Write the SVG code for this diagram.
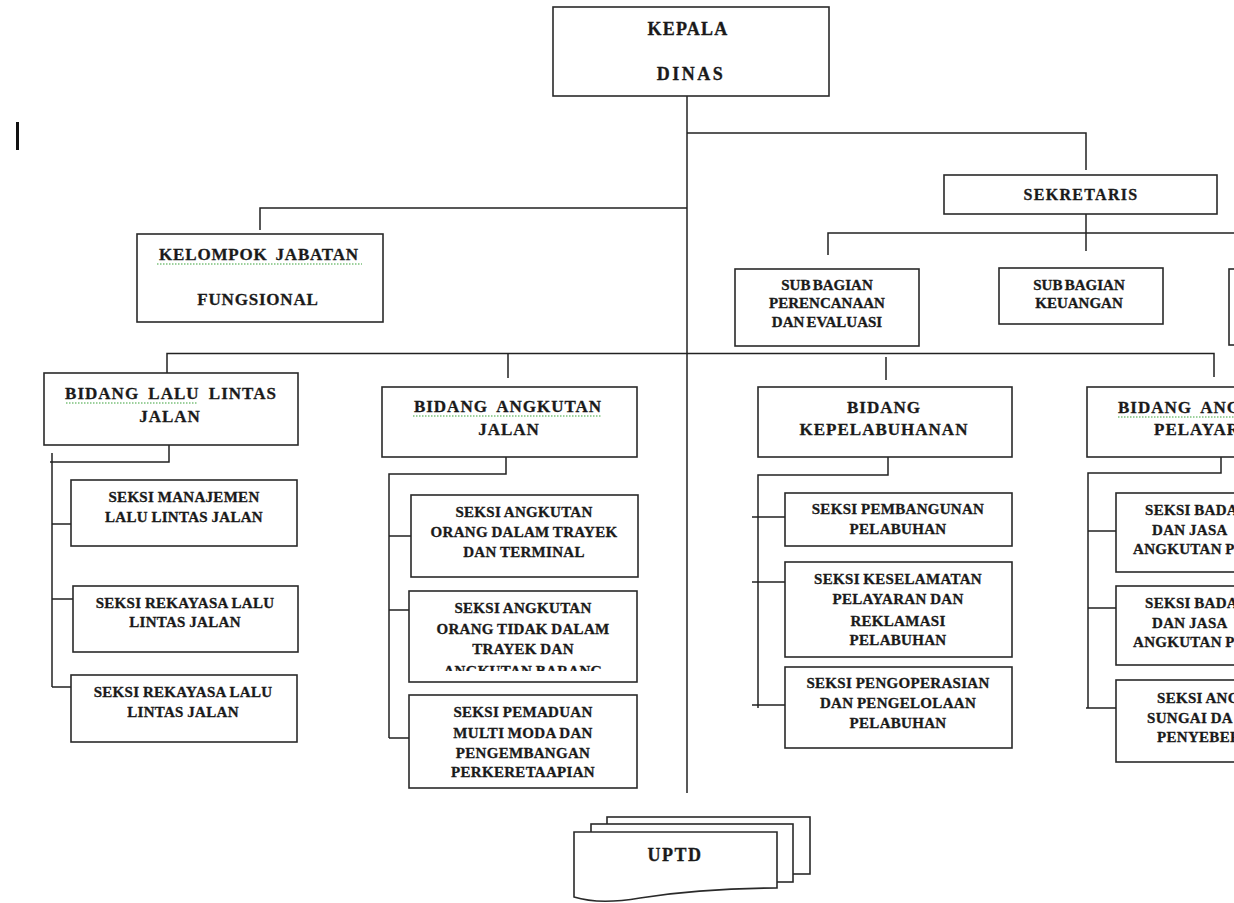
<svg xmlns="http://www.w3.org/2000/svg" width="1234" height="903" viewBox="0 0 1234 903">
<style>
.box{fill:#fff;stroke:#2a2a2a;stroke-width:1.6}
.ln{fill:none;stroke:#222;stroke-width:1.5}
.sq{fill:none;stroke:#3aa23a;stroke-width:1.2;stroke-dasharray:1.5 1.5}
text{font-family:"Liberation Serif","Times New Roman",serif;font-weight:bold;fill:#1a1a1a;stroke:#1a1a1a;stroke-width:0.3;text-anchor:middle}
.big{font-size:18px}
.bid{font-size:17px;letter-spacing:1px}
.sek{font-size:15px;letter-spacing:0.3px;word-spacing:-0.5px}
.sub{font-size:15px;word-spacing:-1.5px}
.st{text-anchor:start}
</style>
<defs>
<clipPath id="clipOT"><rect x="409" y="591" width="228" height="80"/></clipPath>
</defs>
<rect x="16" y="122" width="3" height="28" fill="#111"/>
<g id="connectors">
<path class="ln" d="M687,96 V793"/>
<path class="ln" d="M687,133 H1086 V170"/>
<path class="ln" d="M687,208 H260 V230"/>
<path class="ln" d="M1086,214 V251"/>
<path class="ln" d="M828,255 V233 H1234"/>
<path class="ln" d="M167,373 V353.5 H1214 V377"/>
<path class="ln" d="M508,353.5 V378"/>
<path class="ln" d="M886,357 V380"/>
<path class="ln" d="M169,442 V462 H50"/>
<path class="ln" d="M52,453 V687"/>
<path class="ln" d="M52,524 H74 M52,599 H74 M52,687 H74"/>
<path class="ln" d="M506,453 V474 H389 V738"/>
<path class="ln" d="M389,536 H412 M389,610 H412 M389,738 H412"/>
<path class="ln" d="M888,453 V475 H758 V708"/>
<path class="ln" d="M752,517 H788 M752,582 H788 M752,705 H788"/>
<path class="ln" d="M1221,453 V473 H1088 V708"/>
<path class="ln" d="M1088,531 H1117 M1088,608 H1117 M1086,708 H1117"/>
</g>
<g id="kepala-dinas">
<rect class="box" x="553" y="7" width="276" height="89"/>
<text class="big" x="688" y="35" style="letter-spacing:1.2px">KEPALA</text>
<text class="big" x="691" y="80" style="letter-spacing:2.5px">DINAS</text>
</g>
<g id="sekretaris">
<rect class="box" x="944" y="175" width="273" height="39"/>
<text x="1081" y="200" style="font-size:16px;letter-spacing:1.3px">SEKRETARIS</text>
</g>
<g id="kelompok-jabatan">
<rect class="box" x="137" y="234" width="246" height="88"/>
<text x="259" y="260" style="font-size:17px;letter-spacing:0.8px;word-spacing:3px">KELOMPOK JABATAN</text>
<path class="sq" d="M157,264 H362"/>
<text x="258" y="305" style="font-size:17px;letter-spacing:0.8px">FUNGSIONAL</text>
</g>
<g id="subbag-perencanaan">
<rect class="box" x="735" y="269" width="184" height="77"/>
<text class="sub" x="827" y="290">SUB BAGIAN</text>
<text class="sub" x="827" y="308">PERENCANAAN</text>
<text class="sub" x="827" y="327">DAN EVALUASI</text>
</g>
<g id="subbag-keuangan">
<rect class="box" x="999" y="268" width="164" height="56"/>
<text class="sub" x="1079" y="290">SUB BAGIAN</text>
<text class="sub" x="1079" y="308">KEUANGAN</text>
</g>
<g id="subbag-3">
<rect class="box" x="1229" y="269" width="60" height="76"/>
</g>
<g id="bidang-llj">
<rect class="box" x="44" y="373" width="254" height="72"/>
<text class="bid" x="171" y="399" style="word-spacing:4px">BIDANG LALU LINTAS</text>
<path class="sq" d="M66,403 H197"/>
<text class="bid" x="170" y="422">JALAN</text>
</g>
<g id="seksi-manajemen">
<rect class="box" x="71" y="480" width="226" height="66"/>
<text class="sek" x="184" y="502">SEKSI MANAJEMEN</text>
<text class="sek" x="184" y="522">LALU LINTAS JALAN</text>
</g>
<g id="seksi-rekayasa-1">
<rect class="box" x="73" y="586" width="225" height="66"/>
<text class="sek" x="185" y="608">SEKSI REKAYASA LALU</text>
<text class="sek" x="185" y="627">LINTAS JALAN</text>
</g>
<g id="seksi-rekayasa-2">
<rect class="box" x="71" y="675" width="226" height="67"/>
<text class="sek" x="183" y="697">SEKSI REKAYASA LALU</text>
<text class="sek" x="183" y="717">LINTAS JALAN</text>
</g>
<g id="bidang-aj">
<rect class="box" x="382" y="387" width="255" height="70"/>
<text class="bid" x="508" y="412" style="word-spacing:4px">BIDANG ANGKUTAN</text>
<path class="sq" d="M413,416 H602"/>
<text class="bid" x="509" y="435">JALAN</text>
</g>
<g id="seksi-aodt">
<rect class="box" x="411" y="495" width="227" height="82"/>
<text class="sek" x="524" y="517">SEKSI ANGKUTAN</text>
<text class="sek" x="524" y="537">ORANG DALAM TRAYEK</text>
<text class="sek" x="524" y="557">DAN TERMINAL</text>
</g>
<g id="seksi-aotdt">
<rect class="box" x="409" y="591" width="228" height="91"/>
<text class="sek" x="523" y="613">SEKSI ANGKUTAN</text>
<text class="sek" x="523" y="634">ORANG TIDAK DALAM</text>
<text class="sek" x="523" y="654">TRAYEK DAN</text>
<text class="sek" x="523" y="676" clip-path="url(#clipOT)">ANGKUTAN BARANG</text>
</g>
<g id="seksi-pemaduan">
<rect class="box" x="409" y="695" width="228" height="93"/>
<text class="sek" x="523" y="717">SEKSI PEMADUAN</text>
<text class="sek" x="523" y="738">MULTI MODA DAN</text>
<text class="sek" x="523" y="758">PENGEMBANGAN</text>
<text class="sek" x="523" y="777">PERKERETAAPIAN</text>
</g>
<g id="bidang-kepelabuhanan">
<rect class="box" x="758" y="387" width="254" height="70"/>
<text class="bid" x="884" y="413">BIDANG</text>
<text class="bid" x="884" y="435">KEPELABUHANAN</text>
</g>
<g id="seksi-pembangunan">
<rect class="box" x="785" y="493" width="227" height="53"/>
<text class="sek" x="898" y="514">SEKSI PEMBANGUNAN</text>
<text class="sek" x="898" y="534">PELABUHAN</text>
</g>
<g id="seksi-keselamatan">
<rect class="box" x="785" y="562" width="227" height="95"/>
<text class="sek" x="898" y="584">SEKSI KESELAMATAN</text>
<text class="sek" x="898" y="604">PELAYARAN DAN</text>
<text class="sek" x="898" y="626">REKLAMASI</text>
<text class="sek" x="898" y="645">PELABUHAN</text>
</g>
<g id="seksi-pengoperasian">
<rect class="box" x="785" y="667" width="227" height="81"/>
<text class="sek" x="898" y="688">SEKSI PENGOPERASIAN</text>
<text class="sek" x="898" y="708">DAN PENGELOLAAN</text>
<text class="sek" x="898" y="728">PELABUHAN</text>
</g>
<g id="bidang-ap">
<rect class="box" x="1087" y="387" width="255" height="70"/>
<text class="bid st" x="1118" y="413" style="word-spacing:4px">BIDANG ANG</text>
<path class="sq" d="M1118,417 H1234"/>
<text class="bid st" x="1154" y="435">PELAYAR</text>
</g>
<g id="seksi-bada-1">
<rect class="box" x="1116" y="493" width="227" height="79"/>
<text class="sek st" x="1145" y="515">SEKSI BADA</text>
<text class="sek st" x="1152" y="535">DAN JASA</text>
<text class="sek st" x="1133" y="554">ANGKUTAN P</text>
</g>
<g id="seksi-bada-2">
<rect class="box" x="1116" y="586" width="227" height="79"/>
<text class="sek st" x="1145" y="608">SEKSI BADA</text>
<text class="sek st" x="1152" y="628">DAN JASA</text>
<text class="sek st" x="1133" y="647">ANGKUTAN P</text>
</g>
<g id="seksi-ang">
<rect class="box" x="1116" y="680" width="227" height="82"/>
<text class="sek st" x="1157" y="703">SEKSI ANG</text>
<text class="sek st" x="1147" y="723">SUNGAI DA</text>
<text class="sek st" x="1157" y="742">PENYEBER</text>
</g>
<g id="uptd">
<rect class="box" x="607" y="817" width="203" height="57"/>
<rect class="box" x="591" y="824" width="202" height="58"/>
<path class="box" d="M574,832 H777 V888 C740,888 690,890 640,898 C610,903 590,902 574,897 Z"/>
<text class="big" x="675" y="861" style="letter-spacing:1.5px">UPTD</text>
</g>
</svg>
